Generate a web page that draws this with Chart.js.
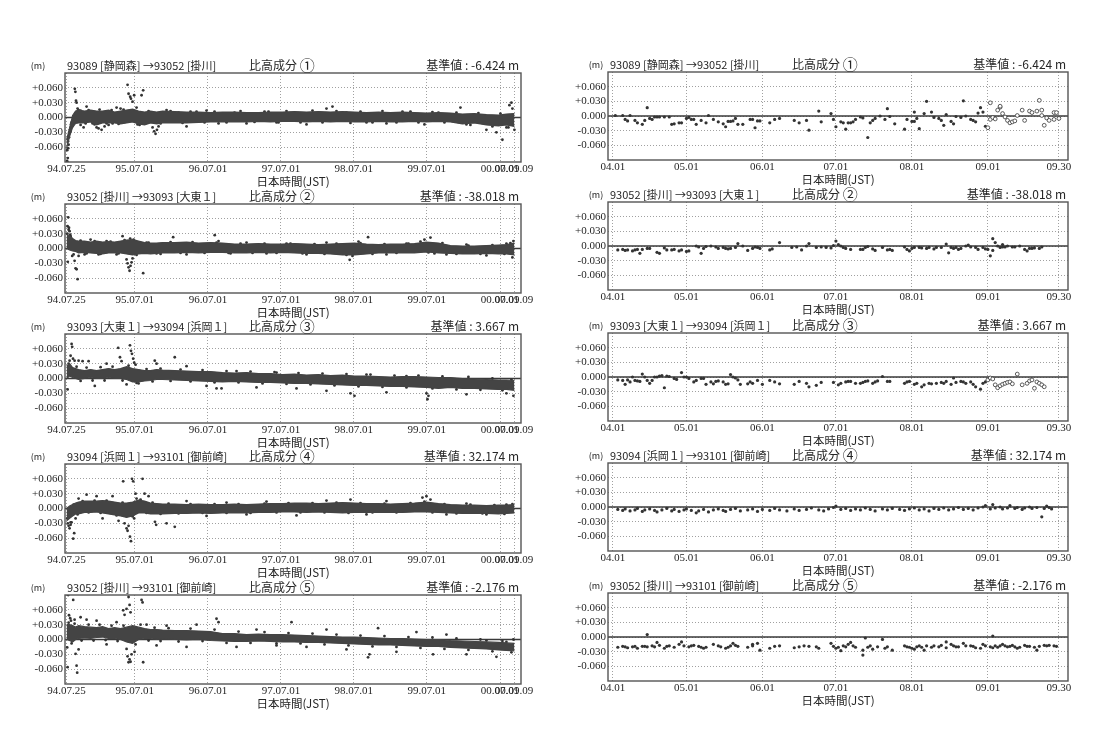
<!DOCTYPE html>
<html lang="ja">
<head>
<meta charset="utf-8">
<title>比高成分</title>
<script src="https://cdn.jsdelivr.net/npm/chart.js@4.4.1/dist/chart.umd.min.js"></script>
<style>
  body { margin: 0; background: #fff; }
  #page { position: relative; width: 1107px; height: 751px; overflow: hidden; background: #fff; }
  #page canvas { position: absolute; }
</style>
</head>
<body>
<div id="page"></div>
<script>
// 比高成分の時系列 (左: 94.07.25〜, 右: 04.01〜09.30)
// x は日数 (左: 94.07.25 起点, 右: 04.01 起点), 値は mm

const fromStations = ['93089 [静岡森]', '93052 [掛川]', '93093 [大東１]', '93094 [浜岡１]', '93052 [掛川]'];
const toStations = ['93052 [掛川]', '93093 [大東１]', '93094 [浜岡１]', '93101 [御前崎]', '93101 [御前崎]'];
const circled = ['①', '②', '③', '④', '⑤'];
const baseValues = ['-6.424', '-38.018', '3.667', '32.174', '-2.176'];

const longTickDays = [0, 341, 707, 1072, 1437, 1802, 2168, 2238];
const longTickLabels = ['94.07.25', '95.07.01', '96.07.01', '97.07.01', '98.07.01', '99.07.01', '00.07.01', '00.09.09'];
const shortTickDays = [0, 30, 61, 91, 122, 153, 182];
const shortTickLabels = ['04.01', '05.01', '06.01', '07.01', '08.01', '09.01', '09.30'];
const yTickValues = [-0.06, -0.03, 0, 0.03, 0.06];

// 左パネル: 点の密集帯 [日, 上端mm, 下端mm]
const band1 = [[0,-45,-62],[15,-22,-38],[30,4,-20],[45,13,-12],[60,15,-11],[90,13,-11],[120,15,-9],[150,13,-15],[180,13,-11],[210,15,-11],[240,11,-11],[270,13,-13],[300,15,-11],[330,17,-9],[360,13,-13],[390,11,-15],[420,13,-11],[450,11,-13],[480,13,-11],[540,12,-11],[600,11,-11],[660,11,-10],[720,10,-9],[780,11,-9],[840,11,-9],[900,10,-9],[960,10,-8],[1020,11,-9],[1080,11,-8],[1140,12,-8],[1200,11,-9],[1260,12,-8],[1320,11,-9],[1380,12,-8],[1440,11,-9],[1500,10,-9],[1560,11,-8],[1620,10,-9],[1680,11,-9],[1740,10,-8],[1800,9,-9],[1860,10,-8],[1920,9,-9],[1980,7,-13],[2040,8,-11],[2100,6,-15],[2160,5,-17],[2200,7,-15],[2240,8,-18]];
const band2 = [[0,30,0],[15,25,-3],[30,20,-5],[45,16,-6],[60,15,-9],[90,15,-8],[120,13,-9],[150,15,-10],[180,13,-11],[210,14,-9],[240,13,-9],[270,15,-9],[300,17,-11],[330,18,-13],[360,15,-11],[390,12,-10],[420,11,-11],[450,11,-10],[480,12,-9],[540,12,-9],[600,13,-8],[660,11,-9],[720,12,-8],[780,11,-8],[840,9,-9],[900,9,-9],[960,10,-8],[1020,9,-9],[1080,9,-8],[1140,10,-9],[1200,9,-10],[1260,8,-10],[1320,9,-11],[1380,10,-13],[1440,11,-13],[1500,9,-11],[1560,8,-9],[1620,9,-9],[1680,9,-9],[1740,10,-9],[1800,13,-7],[1860,11,-9],[1920,6,-10],[1980,5,-11],[2040,5,-11],[2100,6,-10],[2160,7,-11],[2200,8,-11],[2240,11,-13]];
const band3 = [[0,25,0],[15,30,5],[30,22,2],[45,20,0],[60,18,-2],[90,16,0],[120,18,2],[150,16,0],[180,18,0],[210,20,2],[240,18,0],[270,20,0],[300,24,-2],[330,20,-7],[360,18,-7],[390,16,-5],[420,16,-4],[450,18,-2],[480,17,-2],[540,16,-3],[600,15,-4],[660,14,-5],[720,14,-6],[780,12,-7],[840,11,-6],[900,12,-7],[960,10,-8],[1020,10,-8],[1080,8,-9],[1140,9,-10],[1200,7,-10],[1260,8,-11],[1320,6,-12],[1380,7,-13],[1440,5,-14],[1500,5,-14],[1560,4,-15],[1620,3,-16],[1680,4,-16],[1740,4,-17],[1800,3,-18],[1860,2,-20],[1920,2,-18],[1980,0,-20],[2040,-1,-20],[2100,-2,-21],[2160,-3,-22],[2200,-3,-22],[2240,-4,-24]];
const band4 = [[0,0,-25],[15,5,-20],[30,8,-15],[45,11,-11],[60,13,-11],[90,15,-8],[120,15,-8],[150,15,-7],[180,16,-9],[210,15,-11],[240,13,-13],[270,11,-15],[300,11,-18],[330,13,-15],[360,17,-9],[390,15,-9],[420,11,-11],[450,10,-11],[480,9,-11],[540,9,-10],[600,8,-10],[660,9,-9],[720,8,-10],[780,8,-9],[840,9,-9],[900,8,-9],[960,9,-8],[1020,10,-8],[1080,10,-7],[1140,11,-7],[1200,11,-8],[1260,10,-7],[1320,11,-8],[1380,12,-9],[1440,11,-8],[1500,10,-8],[1560,10,-8],[1620,9,-8],[1680,10,-8],[1740,11,-7],[1800,13,-7],[1860,10,-8],[1920,8,-9],[1980,7,-10],[2040,7,-10],[2100,6,-10],[2160,7,-11],[2200,7,-10],[2240,8,-9]];
const band5 = [[0,30,0],[15,30,-2],[30,28,-5],[45,25,0],[60,28,2],[90,26,3],[120,25,2],[150,24,4],[180,26,5],[210,22,2],[240,24,2],[270,22,0],[300,25,-5],[330,28,-8],[360,25,0],[390,22,2],[420,20,2],[450,20,0],[480,19,1],[540,18,0],[600,18,-1],[660,17,0],[720,16,-2],[780,12,-3],[840,12,-4],[900,10,-4],[960,11,-3],[1020,10,-4],[1080,10,-5],[1140,9,-5],[1200,8,-6],[1260,7,-6],[1320,6,-7],[1380,5,-8],[1440,5,-9],[1500,4,-10],[1560,3,-11],[1620,2,-11],[1680,2,-12],[1740,1,-13],[1800,0,-14],[1860,0,-14],[1920,-2,-16],[1980,-3,-17],[2040,-4,-18],[2100,-5,-19],[2160,-6,-21],[2200,-7,-22],[2240,-8,-23]];

// 左パネル: 帯の縁と帯から外れた点 [日, mm]
const scatter1 = [[2,-88],[4,-90],[6,-82],[8,-62],[10,-55],[3,-66],[7,-48],[12,-40],[14,-30],[16,-25],[18,-28],[20,-20],[22,-14],[25,-10],[28,-18],[32,-12],[41,58],[44,52],[47,34],[50,30],[55,18],[60,15],[70,-15],[85,-20],[100,22],[130,-12],[150,-20],[160,-22],[175,-25],[190,-18],[210,-15],[230,-12],[250,20],[270,18],[305,66],[310,48],[318,42],[322,38],[330,32],[338,45],[375,45],[383,55],[350,20],[365,-15],[430,-20],[438,-28],[445,-33],[452,-25],[460,-18],[500,15],[560,10],[600,-18],[650,12],[700,14],[760,-12],[840,10],[900,-12],[990,12],[1050,-10],[1130,8],[1200,-14],[1300,18],[1330,22],[1400,10],[1500,-10],[1600,-12],[1680,12],[1790,-14],[1860,10],[1970,20],[2020,-15],[2100,-25],[2150,-30],[2180,-45],[2200,-20],[2215,25],[2225,30],[2230,18],[2240,-25],
  [70,14],[95,-12],[110,15],[140,-14],[165,16],[200,-12],[225,15],[260,-13],[285,16],[355,-14],[410,13],[470,-12],[520,13],[580,-11],[620,12],[690,-10],[740,12],[800,-10],[870,13],[940,-9],[1010,12],[1060,-10],[1100,13],[1170,-10],[1230,14],[1280,-10],[1350,13],[1420,-11],[1470,12],[1530,-10],[1580,13],[1650,-10],[1720,12],[1760,-10],[1830,11],[1890,-10],[1950,10],[2000,-14],[2060,9],[2130,-18],[2170,8],[2210,-20]];
const scatter2 = [[3,30],[5,45],[8,63],[10,38],[12,42],[15,35],[18,28],[20,25],[25,20],[6,-27],[28,-15],[35,-12],[45,-40],[50,-42],[55,-62],[40,-25],[60,-15],[90,-12],[120,18],[160,-12],[200,15],[250,-12],[280,25],[300,-22],[305,-30],[310,-38],[315,-45],[320,-35],[325,-28],[330,-20],[318,20],[335,18],[345,15],[383,-50],[400,12],[450,-10],[533,23],[600,-12],[741,27],[760,15],[820,-10],[900,12],[1000,-10],[1100,10],[1200,-12],[1300,12],[1416,-23],[1430,-15],[1460,14],[1508,23],[1600,-12],[1700,10],[1790,18],[1820,22],[1840,-10],[1900,-12],[2000,8],[2100,-14],[2200,10],[2235,15],[2230,-18],
  [70,16],[100,-10],[140,15],[170,-11],[220,14],[260,-10],[290,17],[350,-13],[410,12],[470,-11],[520,13],[570,-9],[630,13],[690,-9],[750,12],[810,-9],[870,10],[930,-9],[990,10],[1050,-9],[1120,10],[1180,-10],[1240,9],[1290,-11],[1350,10],[1400,-13],[1470,11],[1530,-11],[1590,9],[1650,-9],[1710,10],[1770,14],[1810,-8],[1880,11],[1950,-11],[2010,6],[2070,-11],[2130,7],[2190,-11],[2220,11]];
const scatter3 = [[5,-22],[15,36],[20,46],[25,70],[28,64],[32,40],[40,36],[60,36],[80,35],[110,35],[141,-15],[200,30],[258,62],[267,43],[275,35],[300,-12],[317,67],[322,56],[327,50],[333,40],[338,32],[345,28],[360,-10],[441,36],[450,30],[541,43],[600,25],[700,-15],[750,-20],[775,-20],[850,15],[950,-18],[1050,12],[1150,-20],[1300,-25],[1420,-30],[1440,-35],[1500,8],[1600,-28],[1700,5],[1800,-30],[1805,-42],[1810,-35],[1900,0],[2000,-32],[2100,-5],[2200,-30],[2235,-35],
  [10,30],[50,24],[70,-5],[100,22],[130,-4],[170,23],[190,-4],[230,24],[280,-4],[310,26],[350,-9],[400,19],[430,-6],[470,20],[520,-5],[570,18],[620,-6],[680,17],[740,-8],[800,15],[860,-8],[920,14],[980,-10],[1040,13],[1100,-11],[1160,11],[1220,-12],[1280,10],[1340,-14],[1400,9],[1460,-16],[1520,8],[1580,-17],[1640,6],[1700,-18],[1760,6],[1830,-20],[1880,4],[1950,-22],[2010,3],[2070,-23],[2130,0],[2180,-24],[2225,-2]];
const scatter4 = [[3,-20],[6,-30],[10,-35],[15,-40],[20,-33],[33,-61],[38,-50],[25,-28],[45,-20],[60,20],[100,28],[150,25],[180,-20],[230,25],[260,-25],[283,55],[290,-30],[300,-40],[305,-45],[310,-35],[317,-57],[322,-66],[327,60],[333,55],[338,-20],[345,30],[350,20],[380,60],[390,30],[410,25],[442,-27],[448,-33],[500,-30],[541,-37],[600,15],[700,-15],[800,12],[900,-12],[1000,14],[1150,-14],[1300,16],[1420,18],[1500,-12],[1600,15],[1780,22],[1800,25],[1820,18],[1900,-12],[2000,10],[2100,-12],[2200,8],
  [20,-28],[35,8],[55,-12],[80,15],[110,-8],[140,16],[170,-9],[200,16],[250,-14],[280,12],[330,-16],[370,18],[400,-9],[430,12],[470,-11],[510,10],[560,-10],[620,9],[680,-9],[740,9],[800,-9],[860,9],[920,-9],[990,10],[1050,-8],[1110,11],[1170,-8],[1230,11],[1290,-8],[1350,12],[1410,-9],[1470,11],[1530,-8],[1590,10],[1650,-8],[1720,11],[1790,14],[1830,-8],[1890,9],[1950,-10],[2020,8],[2080,-10],[2140,7],[2190,-11],[2230,9]];
const scatter5 = [[8,90],[33,80],[12,49],[18,43],[22,38],[3,-16],[5,-56],[50,-53],[53,-67],[45,-29],[60,-20],[40,40],[70,45],[100,40],[150,38],[200,-10],[250,35],[283,59],[290,50],[300,62],[310,86],[315,70],[320,55],[300,-19],[305,-34],[310,-46],[315,-40],[320,-45],[325,-30],[340,-25],[375,80],[380,75],[383,-46],[400,30],[450,-12],[500,28],[600,-15],[650,30],[750,42],[760,35],[850,-15],[950,20],[1050,-12],[1125,35],[1200,-15],[1300,20],[1400,-20],[1508,-36],[1515,-30],[1558,23],[1650,-25],[1750,15],[1833,-30],[1900,10],[2000,-30],[2100,-2],[2150,-35],[2200,-5],[2235,0],
  [10,34],[25,-8],[40,32],[75,-2],[110,30],[135,-2],[165,30],[195,-1],[225,28],[255,-3],[285,28],[345,-10],[370,30],[410,-2],[440,24],[470,-3],[510,23],[560,-4],[620,22],[680,-3],[740,20],[800,-7],[860,16],[920,-7],[990,15],[1050,-8],[1110,13],[1170,-8],[1230,12],[1290,-10],[1350,10],[1410,-12],[1470,8],[1530,-14],[1590,7],[1650,-15],[1710,5],[1770,-17],[1830,4],[1890,-19],[1950,2],[2010,-21],[2070,0],[2130,-24],[2180,-3],[2225,-26]];

// 右パネル: 日々の値 [日, mm]
const recent1 = [[1,1],[4,1],[5,-7],[6,-10],[7,1],[9,-9],[10,-14],[12,-17],[13,-9],[14,17],[15,-5],[16,-7],[17,-2],[18,-2],[19,-2],[21,-2],[23,-2],[24,-17],[25,-16],[27,-14],[28,-14],[30,-5],[31,-3],[32,-7],[33,-7],[34,-17],[36,-9],[38,-14],[39,1],[41,-7],[43,-12],[45,-16],[46,-22],[47,-11],[48,-11],[49,-10],[50,-5],[51,-17],[53,-17],[56,-7],[57,-7],[58,-24],[59,-10],[60,-10],[64,-14],[66,-7],[68,-5],[74,-9],[76,-14],[79,-9],[80,-29],[84,10],[85,-12],[89,5],[90,-7],[91,-22],[93,-12],[94,-14],[95,-27],[96,-14],[97,-14],[98,-12],[99,-7],[101,-2],[102,-4],[104,-44],[105,-14],[106,-9],[107,-5],[109,0],[111,-7],[112,15],[113,-1],[115,-16],[119,-27],[120,-7],[122,-11],[123,8],[123,-11],[124,-5],[125,-26],[127,5],[128,30],[130,8],[131,-3],[133,-5],[134,-9],[135,-19],[136,3],[138,-11],[139,-16],[140,-1],[142,-3],[143,31],[144,0],[146,-7],[147,-9],[148,-12],[149,6],[150,17],[151,8],[152,-21],[153,-24],[154,-7],[154,27],[155,-3],[156,-6],[157,12],[158,18],[158,20],[159,5],[160,-2],[161,-9],[162,-14],[163,-12],[164,-10],[165,1],[167,12],[168,-9],[170,10],[171,7],[173,10],[174,32],[175,12],[175,1],[176,-19],[177,-4],[178,-9],[180,7],[180,-7],[181,7],[182,-5]];
const recent2 = [[2,-8],[4,-7],[5,-9],[6,-8],[8,-10],[9,-8],[10,-7],[11,-15],[12,-7],[14,-5],[15,-5],[18,-13],[19,-15],[21,-4],[22,-8],[24,-8],[25,-7],[27,-10],[28,-8],[30,-11],[31,-10],[34,0],[35,-2],[36,-15],[37,-5],[38,-1],[40,0],[42,-2],[43,-5],[45,-3],[46,-5],[47,-6],[48,-5],[50,-3],[51,5],[53,0],[55,-9],[57,-5],[58,-2],[59,-3],[60,-5],[64,-8],[65,-6],[68,7],[73,-3],[75,-2],[77,-8],[79,0],[80,5],[83,-3],[85,-2],[87,-3],[89,-4],[90,1],[91,10],[92,3],[93,0],[94,-3],[95,-5],[97,-7],[101,-7],[102,-7],[103,-3],[104,-1],[106,-6],[107,-9],[110,-3],[112,-8],[113,-7],[114,-9],[119,-2],[120,-7],[121,-10],[122,-5],[123,-3],[125,-3],[126,-4],[128,-5],[129,-3],[131,-6],[132,-3],[134,-3],[136,4],[137,-14],[138,-3],[139,-5],[140,-3],[141,-7],[142,-5],[144,0],[145,2],[146,-2],[148,-3],[149,-7],[151,-3],[152,-6],[153,-7],[154,-20],[155,-9],[155,15],[156,7],[157,0],[158,-3],[159,3],[159,-2],[160,-2],[161,0],[163,-2],[164,-2],[166,0],[168,-7],[169,-10],[170,-5],[171,-5],[172,-4],[174,-5],[175,-2]];
const recent3 = [[2,-6],[4,-7],[5,-15],[6,-6],[7,-10],[8,0],[9,-7],[10,-8],[11,-9],[12,6],[13,0],[14,-7],[15,-13],[16,-7],[17,0],[18,0],[19,2],[20,3],[21,-22],[22,2],[23,1],[25,-3],[26,-5],[28,9],[29,0],[30,0],[31,-3],[33,-10],[34,-7],[36,-3],[37,-3],[38,-15],[40,-10],[41,-14],[42,-9],[43,-8],[45,-10],[46,-15],[47,-14],[48,5],[49,0],[50,-2],[51,-6],[52,-15],[55,-14],[56,-10],[57,-13],[59,-7],[61,-15],[64,-7],[66,-10],[68,-14],[74,-15],[76,-9],[79,-13],[80,-20],[83,-17],[85,-11],[90,-11],[92,-16],[93,-13],[95,-10],[96,-9],[97,-9],[99,-13],[101,-13],[102,-11],[103,-9],[104,-8],[106,-13],[107,-10],[108,-8],[110,1],[112,-9],[113,-9],[119,-13],[120,-10],[121,-9],[123,-15],[124,-13],[126,-20],[127,-16],[129,-13],[130,-14],[132,-13],[134,-11],[135,-13],[136,-9],[138,-15],[139,-2],[140,-11],[142,-9],[143,-10],[144,-13],[146,-10],[147,-15],[148,-20],[150,-25],[151,-13],[152,-10],[153,-6],[154,-2],[155,-4],[156,-16],[157,-22],[158,-18],[159,-15],[160,-13],[161,-11],[162,-10],[163,-14],[165,6],[167,-16],[169,-13],[170,-8],[171,-6],[172,-23],[173,-10],[174,-13],[175,-16],[176,-20]];
const recent4 = [[2,-5],[4,-7],[5,-4],[7,-8],[9,-6],[10,-3],[12,-9],[13,-6],[15,-4],[17,-7],[18,-10],[20,-6],[22,-3],[24,-8],[25,-5],[27,-9],[29,-6],[30,-4],[32,-7],[34,-12],[35,-8],[37,-5],[39,-10],[41,-6],[43,-4],[45,-7],[46,-9],[48,-5],[50,-3],[52,-8],[55,-6],[57,-4],[59,-9],[61,-5],[64,-7],[66,-3],[68,-6],[71,-8],[74,-4],[76,-7],[79,-5],[81,-2],[84,-6],[86,-8],[88,-4],[90,-1],[91,2],[93,-5],[95,-3],[97,-7],[99,-4],[101,-6],[103,-2],[105,-5],[107,-8],[110,-4],[112,-6],[114,-3],[117,-5],[119,-7],[121,-4],[123,-2],[125,-6],[127,-4],[129,-8],[131,-3],[133,-5],[135,-2],[137,-6],[139,-4],[141,-1],[143,-5],[145,-3],[147,-6],[149,-2],[151,0],[152,3],[154,-4],[155,5],[156,-2],[158,0],[159,-4],[161,-2],[162,3],[164,-3],[165,-1],[167,-5],[168,-2],[170,0],[171,-3],[173,-1],[175,-20],[176,-3],[177,2],[178,-1],[179,-4]];
const recent5 = [[2,-21],[4,-19],[5,-20],[6,-22],[8,-20],[9,-19],[10,-23],[12,-19],[13,-19],[14,5],[14,-20],[16,-18],[17,-20],[18,-11],[19,-17],[21,-23],[22,-19],[23,-18],[25,-21],[27,-15],[28,-10],[29,-18],[31,-20],[32,-18],[33,-17],[35,-19],[36,-21],[37,-23],[38,-21],[41,-15],[43,-18],[44,-20],[46,-23],[47,-21],[48,-18],[49,-13],[50,-17],[51,-19],[55,-21],[57,-18],[57,-15],[59,-13],[60,-27],[64,-23],[66,-19],[68,-18],[74,-22],[76,-20],[78,-18],[80,-19],[83,-20],[84,-23],[89,-13],[90,-19],[91,-23],[92,-21],[93,-28],[94,-18],[95,-20],[96,-15],[97,-11],[98,-18],[99,-21],[102,-27],[102,-37],[103,-2],[104,-21],[105,-18],[106,-25],[108,-20],[110,-5],[111,-23],[112,-20],[114,-27],[119,-18],[120,-20],[121,-21],[122,-23],[123,-25],[124,-20],[125,-18],[126,-21],[127,-27],[128,-18],[130,-21],[131,-18],[133,-20],[134,-17],[136,-22],[136,-10],[138,-15],[139,-18],[140,-20],[141,-20],[143,-13],[144,-18],[146,-18],[147,-19],[148,-22],[150,-23],[151,-15],[152,-18],[154,-20],[155,-22],[155,2],[156,-18],[157,-21],[158,-18],[159,-15],[160,-18],[161,-20],[162,-19],[163,-17],[164,-20],[165,-23],[166,-21],[168,-17],[169,-19],[170,-19],[172,-21],[173,-27],[174,-19],[176,-17],[177,-18],[178,-17],[180,-18],[181,-19]];

const longBands = [band1, band2, band3, band4, band5];
const longScatter = [scatter1, scatter2, scatter3, scatter4, scatter5];
const recentSeries = [recent1, recent2, recent3, recent4, recent5];

const INK = '#333';
const BAND = '#444';
const TXT = '#262626';
const LATIN = '"Liberation Serif", "Noto Sans CJK JP", serif';
const CJK = '"Noto Sans CJK JP", "Liberation Serif", sans-serif';

Chart.defaults.font.family = LATIN;
Chart.defaults.color = TXT;

const page = document.getElementById('page');

function toPts(rows, col) {
    return rows.map(r => ({ x: r[0], y: r[col] / 1000 }));
}

function fmtY(v) {
    if (Math.abs(v) < 1e-9) return '0.000';
    return (v > 0 ? '+' : '-') + Math.abs(v).toFixed(3);
}

// タイトル・枠・0線
function decorPlugin(i, mOffset) {
    return {
        id: 'decor' + i,
        beforeDatasetsDraw(chart) {
            const { ctx, chartArea: a, scales } = chart;
            const y0 = scales.y.getPixelForValue(0);
            ctx.save();
            ctx.strokeStyle = '#3a3a3a';
            ctx.lineWidth = 1.3;
            ctx.beginPath();
            ctx.moveTo(a.left, y0);
            ctx.lineTo(a.right, y0);
            ctx.stroke();
            ctx.restore();
        },
        afterDraw(chart) {
            const { ctx, chartArea: a } = chart;
            ctx.save();
            ctx.strokeStyle = '#555';
            ctx.lineWidth = 1.4;
            ctx.strokeRect(a.left, a.top, a.right - a.left, a.bottom - a.top);

            ctx.fillStyle = TXT;
            ctx.textBaseline = 'alphabetic';
            const by = a.top - 3;
            ctx.font = '9px ' + CJK;
            ctx.textAlign = 'center';
            ctx.fillText('(m)', a.left + mOffset, by - 1);

            ctx.textAlign = 'left';
            ctx.font = '11px ' + CJK;
            ctx.fillText(fromStations[i] + ' →' + toStations[i], a.left + 2, by);
            ctx.font = '12px ' + CJK;
            ctx.fillText('比高成分', a.left + 184, by);
            const w = ctx.measureText('比高成分 ').width;
            ctx.font = '15px ' + CJK;
            ctx.fillText(circled[i], a.left + 184 + w, by + 1);

            ctx.textAlign = 'right';
            ctx.font = '12px ' + CJK;
            ctx.fillText('基準値 : ' + baseValues[i] + ' m', a.right - 2, by);
            ctx.restore();
        }
    };
}

function makeCanvas(left, top, w, h) {
    const cv = document.createElement('canvas');
    cv.width = w;
    cv.height = h;
    cv.style.left = left + 'px';
    cv.style.top = top + 'px';
    cv.style.width = w + 'px';
    cv.style.height = h + 'px';
    page.appendChild(cv);
    return cv.getContext('2d');
}

function axes(xMin, xMax, tickDays, tickLabels, yAxisWidth) {
    return {
        x: {
            type: 'linear',
            min: xMin,
            max: xMax,
            afterBuildTicks: s => { s.ticks = tickDays.map(v => ({ value: v })); },
            afterFit: s => { s.height = 27; },
            ticks: {
                autoSkip: false,
                maxRotation: 0,
                padding: 1,
                color: TXT,
                font: { size: 11, family: LATIN },
                callback: (v, idx) => tickLabels[idx]
            },
            grid: { color: '#a0a0a0', lineWidth: 1, drawTicks: false },
            border: { display: false, dash: [1, 2] },
            title: {
                display: true,
                text: '日本時間(JST)',
                color: TXT,
                font: { size: 11.5, family: CJK },
                padding: { top: 0, bottom: 0 }
            }
        },
        y: {
            min: -0.09,
            max: 0.09,
            afterBuildTicks: s => { s.ticks = yTickValues.map(v => ({ value: v })); },
            afterFit: s => { s.width = yAxisWidth; },
            ticks: {
                padding: 2,
                color: TXT,
                font: { size: 11, family: LATIN },
                callback: v => fmtY(v)
            },
            grid: { color: '#a0a0a0', lineWidth: 1, drawTicks: false },
            border: { display: false, dash: [1, 2] }
        }
    };
}

function baseOptions(scales, padRight) {
    return {
        responsive: false,
        animation: false,
        events: [],
        layout: { padding: { top: 28, right: padRight, bottom: 0, left: 0 } },
        plugins: { legend: { display: false }, tooltip: { enabled: false } },
        scales: scales
    };
}

// 左列: 長期
function renderLongPanel(i, frameTop) {
    const ctx = makeCanvas(0, frameTop - 28, 545, 28 + 89 + 27);
    new Chart(ctx, {
        type: 'scatter',
        data: {
            datasets: [
                {
                    type: 'line',
                    data: toPts(longBands[i], 1),
                    borderColor: BAND,
                    borderWidth: 1.2,
                    pointRadius: 0,
                    fill: false
                },
                {
                    type: 'line',
                    data: toPts(longBands[i], 2),
                    borderColor: BAND,
                    borderWidth: 1.2,
                    pointRadius: 0,
                    backgroundColor: BAND,
                    fill: '-1'
                },
                {
                    data: toPts(longScatter[i], 1),
                    pointRadius: 1.4,
                    pointBorderWidth: 0,
                    pointBackgroundColor: INK
                }
            ]
        },
        options: baseOptions(axes(-8, 2273, longTickDays, longTickLabels, 65), 24),
        plugins: [decorPlugin(i, -27)]
    });
}

// 右列: 直近半年
function renderRecentPanel(i, frameTop) {
    const hollow = (i === 0 || i === 2);
    const isOpen = c => hollow && c.raw && c.raw.x >= 153;
    const ctx = makeCanvas(545, frameTop - 28, 530, 28 + 88 + 27);
    new Chart(ctx, {
        type: 'scatter',
        data: {
            datasets: [{
                data: toPts(recentSeries[i], 1),
                pointRadius: c => isOpen(c) ? 1.9 : 1.6,
                pointBorderWidth: c => isOpen(c) ? 0.8 : 0,
                pointBorderColor: INK,
                pointBackgroundColor: c => isOpen(c) ? '#fff' : INK
            }]
        },
        options: baseOptions(axes(-2, 185.7, shortTickDays, shortTickLabels, 63), 7),
        plugins: [decorPlugin(i, -12)]
    });
}

const longTops = [73, 204, 334, 464, 595];
const recentTops = [72, 202, 333, 463, 593];
for (let i = 0; i < 5; i++) {
    renderLongPanel(i, longTops[i]);
    renderRecentPanel(i, recentTops[i]);
}
</script>
</body>
</html>
